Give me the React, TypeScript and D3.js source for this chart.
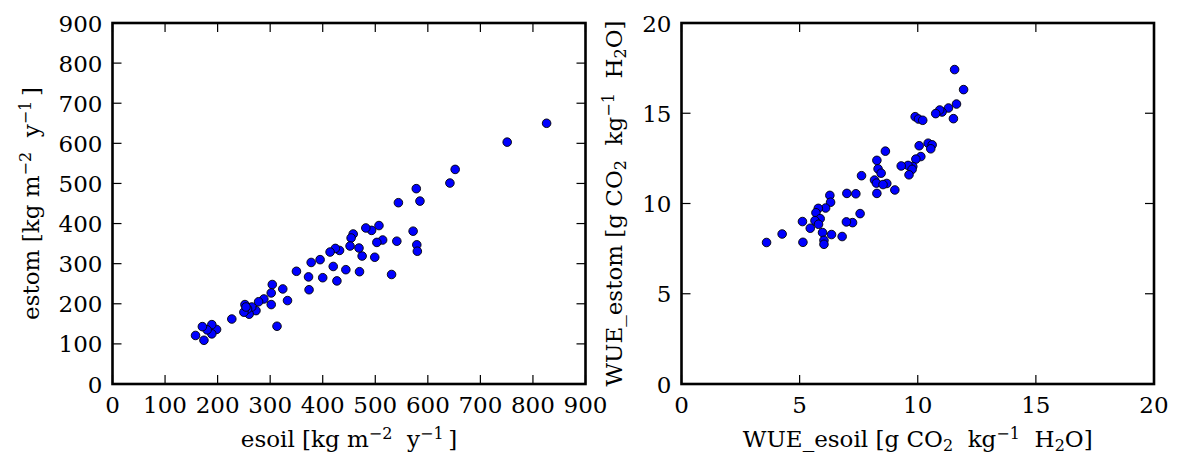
import React from "react";
import * as d3 from "d3";

const esoil = [826, 751, 652, 642, 578, 585, 544, 572, 579, 580, 541, 531, 507, 493, 482, 514, 503, 499, 475, 469, 470, 458, 454, 452, 444, 432, 424, 414, 420, 427, 395, 378, 400, 373, 374, 350, 333, 324, 304, 302, 302, 313, 288, 278, 273, 265, 260, 252, 257, 250, 254, 227, 198, 189, 189, 180, 171, 174, 158];
const estom = [650, 603, 535, 501, 487, 456, 452, 381, 347, 331, 356, 273, 395, 383, 389, 359, 353, 316, 319, 339, 280, 374, 364, 344, 285, 333, 338, 329, 293, 257, 310, 303, 265, 267, 235, 281, 208, 237, 248, 227, 198, 144, 212, 205, 183, 192, 174, 198, 187, 179, 192, 162, 136, 148, 125, 135, 143, 109, 121];

const wueEsoil = [11.56, 11.94, 11.64, 11.51, 11.30, 11.03, 10.93, 10.76, 9.89, 10.03, 10.21, 10.44, 10.61, 10.55, 10.06, 10.13, 9.92, 9.79, 9.59, 9.76, 9.63, 9.30, 8.63, 8.27, 8.32, 8.45, 7.62, 8.17, 8.25, 8.69, 8.53, 8.27, 9.03, 7.38, 7.00, 6.28, 6.31, 7.56, 7.24, 6.98, 6.10, 5.79, 5.69, 5.87, 5.65, 5.80, 5.12, 5.45, 5.97, 6.35, 6.03, 6.03, 6.80, 4.26, 5.14, 3.60];
const wueEstom = [17.42, 16.31, 15.51, 14.70, 15.29, 15.07, 15.18, 14.98, 14.81, 14.68, 14.61, 13.34, 13.25, 13.03, 13.20, 12.60, 12.46, 12.05, 12.11, 11.89, 11.59, 12.08, 12.90, 12.39, 11.92, 11.68, 11.54, 11.30, 11.13, 11.11, 11.05, 10.56, 10.75, 10.54, 10.56, 10.45, 10.07, 9.44, 8.94, 8.98, 9.75, 9.73, 9.49, 9.16, 9.05, 8.85, 9.00, 8.63, 8.39, 8.28, 7.96, 7.74, 8.17, 8.31, 7.85, 7.84];

const leftTicks = [0, 100, 200, 300, 400, 500, 600, 700, 800, 900];
const rightTicks = [0, 5, 10, 15, 20];

type Seg = { t: string; s?: "sup" | "sub" };

const leftXLabel: Seg[] = [{ t: "esoil [kg m" }, { t: "\u22122", s: "sup" }, { t: "  y" }, { t: "\u22121", s: "sup" }, { t: "\u2009]" }];
const leftYLabel: Seg[] = [{ t: "estom [kg m" }, { t: "\u22122", s: "sup" }, { t: "  y" }, { t: "\u22121", s: "sup" }, { t: "\u2009]" }];
const rightXLabel: Seg[] = [{ t: "WUE_esoil [g CO" }, { t: "2", s: "sub" }, { t: "  kg" }, { t: "\u22121", s: "sup" }, { t: "  H" }, { t: "2", s: "sub" }, { t: "O]" }];
const rightYLabel: Seg[] = [{ t: "WUE_estom [g CO" }, { t: "2", s: "sub" }, { t: "  kg" }, { t: "\u22121", s: "sup" }, { t: "  H" }, { t: "2", s: "sub" }, { t: "O]" }];

const FONT = "'DejaVu Serif', serif";
const FS = 23;
const SFS = 16;

function MathText({ segs, ...rest }: any) {
  let cur = 0;
  const parts: any[] = [];
  segs.forEach((sg: Seg, i: number) => {
    const target = sg.s === "sup" ? -8.5 : sg.s === "sub" ? 3.5 : 0;
    const dy = target - cur;
    cur = target;
    parts.push(
      <tspan key={i} dy={dy} fontSize={sg.s ? SFS : FS}>
        {sg.t}
      </tspan>
    );
  });
  return (
    <text {...rest} fontFamily={FONT} fontSize={FS} fill="#000" style={{ whiteSpace: "pre" }}>
      {parts}
    </text>
  );
}

function Panel({ x0, x1, y0, y1, xd, yd, ticks, xs, ys, xLabel, yLabel, yLabelX }: any) {
  const x = d3.scaleLinear().domain(xd).range([x0, x1]);
  const y = d3.scaleLinear().domain(yd).range([y1, y0]);
  const tl = 9;
  return (
    <g>
      {ticks.map((t: number) => (
        <g key={"xt" + t}>
          <line x1={x(t)} x2={x(t)} y1={y1} y2={y1 - tl} stroke="#000" strokeWidth={1.2} />
          <line x1={x(t)} x2={x(t)} y1={y0} y2={y0 + tl} stroke="#000" strokeWidth={1.2} />
          <text x={x(t)} y={413} textAnchor="middle" fontFamily={FONT} fontSize={FS}>
            {t}
          </text>
        </g>
      ))}
      {ticks.map((t: number) => (
        <g key={"yt" + t}>
          <line x1={x0} x2={x0 + tl} y1={y(t)} y2={y(t)} stroke="#000" strokeWidth={1.2} />
          <line x1={x1} x2={x1 - tl} y1={y(t)} y2={y(t)} stroke="#000" strokeWidth={1.2} />
          <text x={x0 - 10} y={y(t) + 8.5} textAnchor="end" fontFamily={FONT} fontSize={FS}>
            {t}
          </text>
        </g>
      ))}
      {xs.map((v: number, i: number) => (
        <circle key={i} cx={x(v)} cy={y(ys[i])} r={4.3} fill="#0000ff" stroke="#000" strokeWidth={0.9} />
      ))}
      <rect x={x0} y={y0} width={x1 - x0} height={y1 - y0} fill="none" stroke="#000" strokeWidth={2.6} />
      <MathText segs={xLabel} x={(x0 + x1) / 2} y={447} textAnchor="middle" />
      <MathText
        segs={yLabel}
        x={0}
        y={0}
        textAnchor="middle"
        transform={`translate(${yLabelX},${(y0 + y1) / 2}) rotate(-90)`}
      />
    </g>
  );
}

export default function App() {
  return (
    <svg
      width={1178}
      height={456}
      style={{ position: "absolute", left: 0, top: 0, background: "#fff" }}
    >
      <rect x={0} y={0} width={1178} height={456} fill="#fff" />
      <Panel
        x0={112.5}
        x1={585.5}
        y0={23}
        y1={384}
        xd={[0, 900]}
        yd={[0, 900]}
        ticks={leftTicks}
        xs={esoil}
        ys={estom}
        xLabel={leftXLabel}
        yLabel={leftYLabel}
        yLabelX={39}
      />
      <Panel
        x0={681.5}
        x1={1154}
        y0={23}
        y1={384}
        xd={[0, 20]}
        yd={[0, 20]}
        ticks={rightTicks}
        xs={wueEsoil}
        ys={wueEstom}
        xLabel={rightXLabel}
        yLabel={rightYLabel}
        yLabelX={622}
      />
    </svg>
  );
}
